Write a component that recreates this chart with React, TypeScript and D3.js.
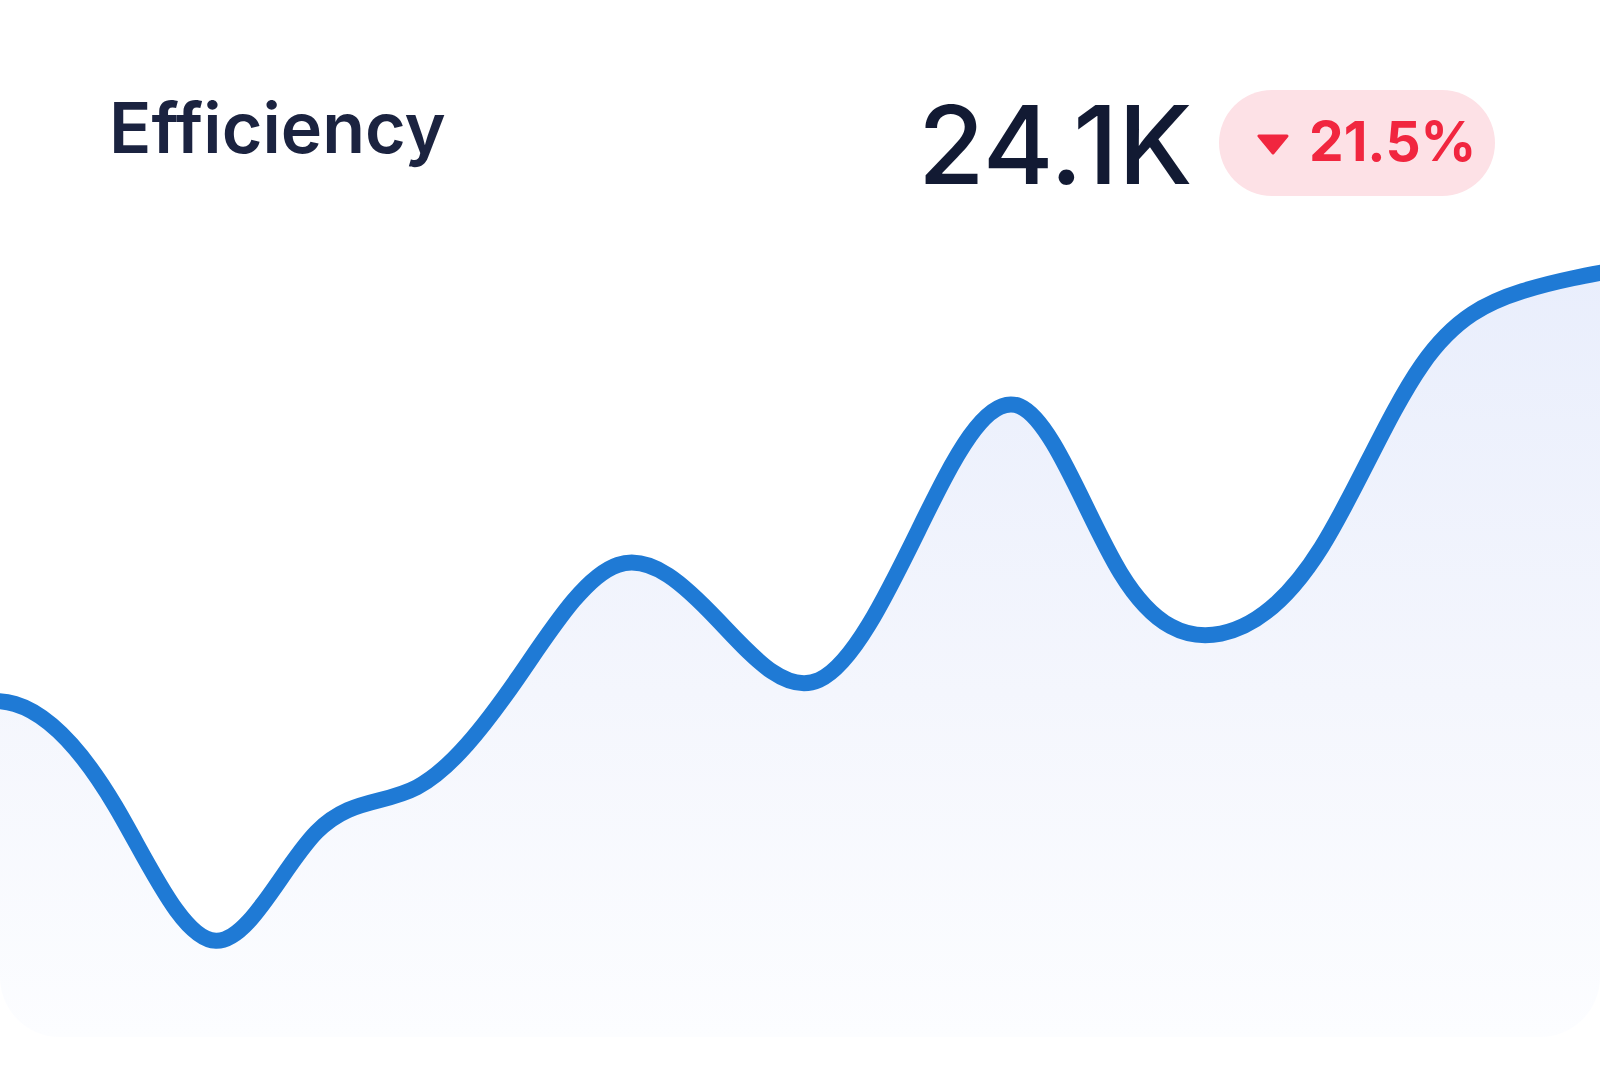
import React from 'react';
import * as d3 from 'd3';

const WIDTH = 1600;
const HEIGHT = 1067;
const CARD_BOTTOM = 1037;

// Efficiency readings in thousands, oldest first; the first reading sits just past the card's left edge.
const readings = [9.8, 10.5, 7.3, 3.1, 6.5, 7.9, 11.3, 14.85, 13.1, 11.25, 16.0, 19.8, 14.6, 12.7, 15.4, 21.1, 23.4, 24.1];
const title = 'Efficiency';
const headline = '24.1K';
const change = '21.5%';

const FONT = 'Inter, "Noto Sans", sans-serif';

export default function App() {
  const x = d3.scaleLinear().domain([0, readings.length - 1]).range([-85.5, 1623]);
  const y = d3.scaleLinear().domain([0, 25]).range([1040, 240]);

  const line = d3
    .line<number>()
    .x((_, i) => x(i))
    .y((d) => y(d))
    .curve(d3.curveNatural);

  const area = d3
    .area<number>()
    .x((_, i) => x(i))
    .y0(CARD_BOTTOM + 10)
    .y1((d) => y(d))
    .curve(d3.curveNatural);

  const yTop = y(d3.max(readings) as number);

  return (
    <svg
      width={WIDTH}
      height={HEIGHT}
      viewBox={`0 0 ${WIDTH} ${HEIGHT}`}
      style={{ position: 'absolute', left: 0, top: 0, background: '#ffffff' }}
    >
      <defs>
        <clipPath id="card-clip">
          <rect x={0} y={-80} width={WIDTH} height={CARD_BOTTOM + 80} rx={60} ry={60} />
        </clipPath>
        <linearGradient id="area-fill" gradientUnits="userSpaceOnUse" x1={0} x2={0} y1={yTop} y2={CARD_BOTTOM}>
          <stop offset="0%" stopColor="#e9eefc" />
          <stop offset="55%" stopColor="#f4f6fd" />
          <stop offset="100%" stopColor="#fcfdff" />
        </linearGradient>
      </defs>

      <rect x={0} y={0} width={WIDTH} height={HEIGHT} fill="#ffffff" />

      <g clipPath="url(#card-clip)">
        <rect x={0} y={-80} width={WIDTH} height={CARD_BOTTOM + 80} fill="#ffffff" />
        <path d={area(readings) ?? ''} fill="url(#area-fill)" />
        <path
          d={line(readings) ?? ''}
          fill="none"
          stroke="#1f7ad5"
          strokeWidth={16}
          strokeLinecap="round"
          strokeLinejoin="round"
        />
      </g>

      <text x={109} y={153} fontFamily={FONT} fontSize={70} fontWeight={600} fill="#1b2340">
        {title}
      </text>

      <text x={918} y={184} fontFamily={FONT} fontSize={108} fontWeight={500} fill="#121a33">
        {headline}
      </text>

      <g>
        <rect x={1219} y={90} width={276} height={106} rx={53} ry={53} fill="#fde1e6" />
        <path d="M1259,136 L1287,136 L1273,153 Z" fill="#f1263f" strokeLinejoin="round" stroke="#f1263f" strokeWidth={3} />
        <text x={1309} y={161} fontFamily={FONT} fontSize={55} fontWeight={700} fill="#f1263f">
          {change}
        </text>
      </g>
    </svg>
  );
}
